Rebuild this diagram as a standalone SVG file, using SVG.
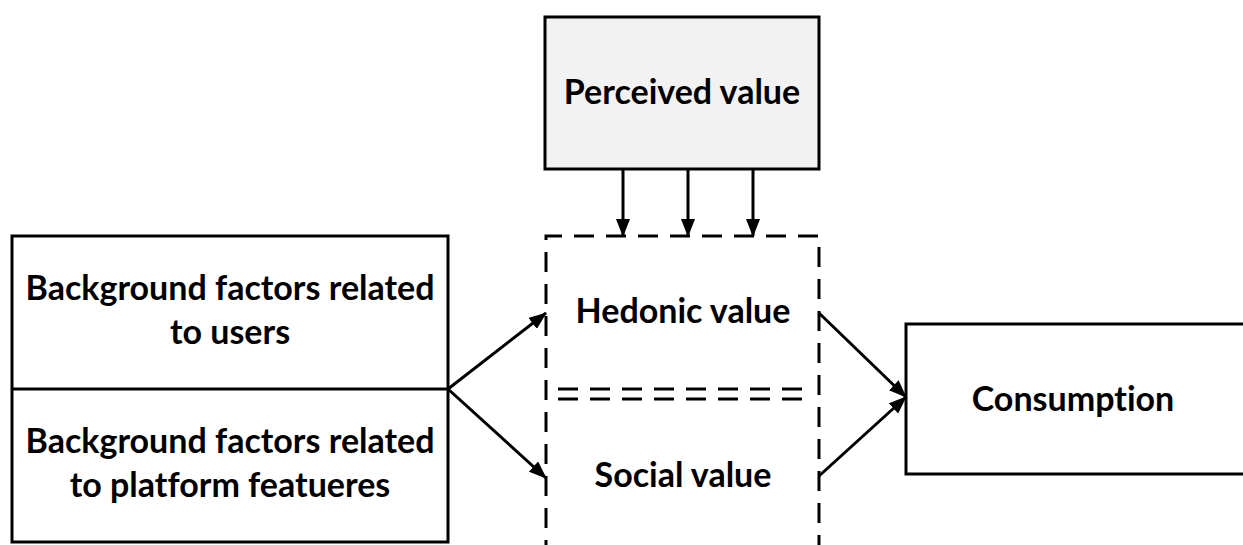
<svg xmlns="http://www.w3.org/2000/svg" width="1243" height="545" viewBox="0 0 1243 545">
<style>
.box{fill:#fff;stroke:#000;stroke-width:3}
.t{font-family:Lato,"Open Sans","Liberation Sans",sans-serif;font-weight:bold;font-size:34px;fill:#000;text-anchor:middle;font-variant-ligatures:none}
.dash{fill:none;stroke:#000;stroke-width:3;stroke-dasharray:20 12}
.c{fill:none;stroke:#000;stroke-width:3}
</style>
<defs>
<marker id="ah" viewBox="0 0 18 14" refX="17" refY="7" markerWidth="18" markerHeight="14" markerUnits="userSpaceOnUse" orient="auto">
<path d="M0,0 L18,7 L0,14 z" fill="#000"/>
</marker>
</defs>
<rect width="1243" height="545" fill="#fff"/>
<g id="perceived">
<rect x="545" y="17" width="274" height="152" style="fill:#f2f2f2;stroke:#000;stroke-width:3"/>
<text class="t" x="682" y="104">Perceived value</text>
</g>
<g id="background">
<rect class="box" x="12" y="236" width="436" height="306"/>
<line x1="12" y1="389" x2="448" y2="389" stroke="#000" stroke-width="3"/>
<text class="t" x="230" y="300">Background factors related</text>
<text class="t" x="230" y="344">to users</text>
<text class="t" x="230" y="453">Background factors related</text>
<text class="t" x="230" y="497">to platform featueres</text>
</g>
<g id="values">
<path class="dash" d="M546,560 L546,236 L819,236 L819,560"/>
<line class="dash" x1="558" y1="389" x2="810" y2="389"/>
<line class="dash" x1="558" y1="399" x2="810" y2="399"/>
<text class="t" x="683" y="323">Hedonic value</text>
<text class="t" x="683" y="487">Social value</text>
</g>
<g id="consumption">
<rect class="box" x="906" y="324" width="345" height="150"/>
<text class="t" x="1073" y="411">Consumption</text>
</g>
<g id="connectors">
<line class="c" x1="623" y1="169" x2="623" y2="236" marker-end="url(#ah)"/>
<line class="c" x1="688" y1="169" x2="688" y2="236" marker-end="url(#ah)"/>
<line class="c" x1="753" y1="169" x2="753" y2="236" marker-end="url(#ah)"/>
<line class="c" x1="448" y1="389" x2="546" y2="313" marker-end="url(#ah)"/>
<line class="c" x1="448" y1="389" x2="546" y2="478" marker-end="url(#ah)"/>
<line class="c" x1="819" y1="313" x2="906" y2="397" marker-end="url(#ah)"/>
<line class="c" x1="819" y1="476" x2="906" y2="397" marker-end="url(#ah)"/>
</g>
</svg>
